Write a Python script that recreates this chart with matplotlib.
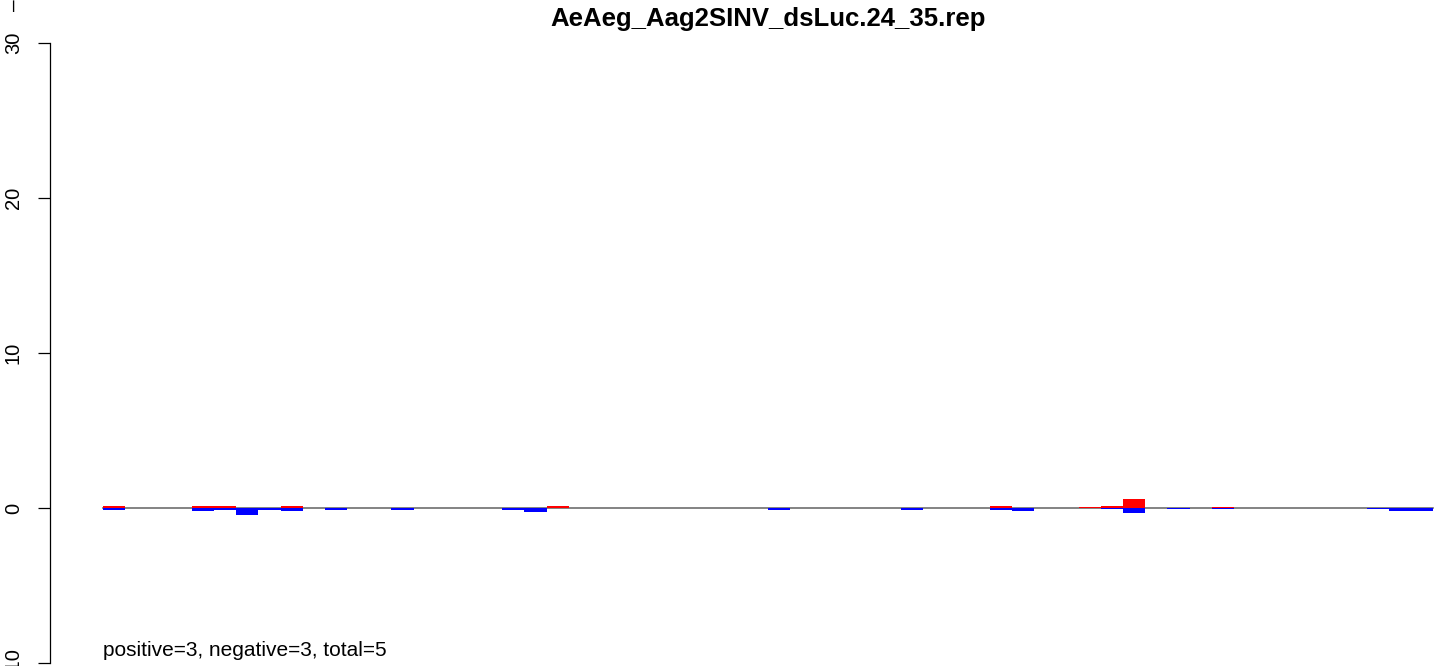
import numpy as np
import matplotlib
matplotlib.use("Agg")
import matplotlib.pyplot as plt

plt.rcParams['font.family'] = ['Liberation Sans', 'DejaVu Sans']

title = "AeAeg_Aag2SINV_dsLuc.24_35.rep"
note = "positive=3, negative=3, total=5"
yticks = [-10, 0, 10, 20, 30]

# one value per position, 60 positions
pos = [0.15, 0, 0, 0, 0.15, 0.15, 0, 0, 0.15, 0,
       0, 0.03, 0, 0.03, 0, 0.03, 0, 0, 0.03, 0,
       0.15, 0, 0, 0, 0, 0, 0, 0, 0, 0,
       0.03, 0, 0, 0, 0, 0, 0, 0, 0, 0,
       0.15, 0.03, 0, 0, 0.08, 0.15, 0.6, 0.03, 0, 0,
       0.08, 0.03, 0.03, 0, 0, 0, 0, 0.03, 0, 0]
neg = [-0.1, 0, 0, 0, -0.2, -0.1, -0.43, -0.13, -0.17, 0,
       -0.1, 0, 0, -0.1, 0, 0, 0, 0, -0.1, -0.23,
       0, 0, 0, 0, 0, 0, 0, 0, 0, 0,
       -0.1, 0, 0, 0, 0, 0, -0.1, 0, 0, 0,
       -0.1, -0.2, 0, 0, 0, -0.08, -0.3, 0, -0.08, 0,
       -0.08, 0, 0, 0, 0, 0, 0, -0.08, -0.17, -0.17]

W, H = 1444, 666
fig = plt.figure(figsize=(W / 100, H / 100), dpi=100)

# pixel layout of the plot region
left_px = 50
bar_px = 22.17
x0 = -2.4
ax = fig.add_axes([left_px / W, 0, 1 - left_px / W, 1])
ax.set_xlim(x0, x0 + (W - left_px) / bar_px)
unit_px = 15.5  # pixels per y unit
ax.set_ylim(-10 - 3 / unit_px, 30 + 43 / unit_px)

n = len(pos)
x = np.arange(n)
ax.plot([0, n], [0, 0], color='#6e6e6e', lw=1.2, zorder=1)
ax.bar(x, pos, width=1, align='edge', color='red', zorder=2)
ax.bar(x, neg, width=1, align='edge', color='blue', zorder=2)

for s in ['top', 'right', 'bottom']:
    ax.spines[s].set_visible(False)
ax.spines['left'].set_bounds(-10, 30)
ax.spines['left'].set_linewidth(0.9)
ax.set_xticks([])
ax.set_yticks(yticks)
ax.set_yticklabels([str(v) for v in yticks], rotation=90, va='center', fontsize=14.5)
ax.tick_params(axis='y', length=8.6, width=0.9, pad=11)

fig.text(768 / W, 1 - 19 / H, title, ha='center', va='center',
         fontsize=18.5, fontweight='bold')
fig.text(103 / W, 1 - 650 / H, note, ha='left', va='center', fontsize=15)
fig.text(14.5 / W, 1 - 5 / H, '\u2013', rotation=90, ha='center', va='center', fontsize=15)

fig.savefig('out.png', dpi=100)
